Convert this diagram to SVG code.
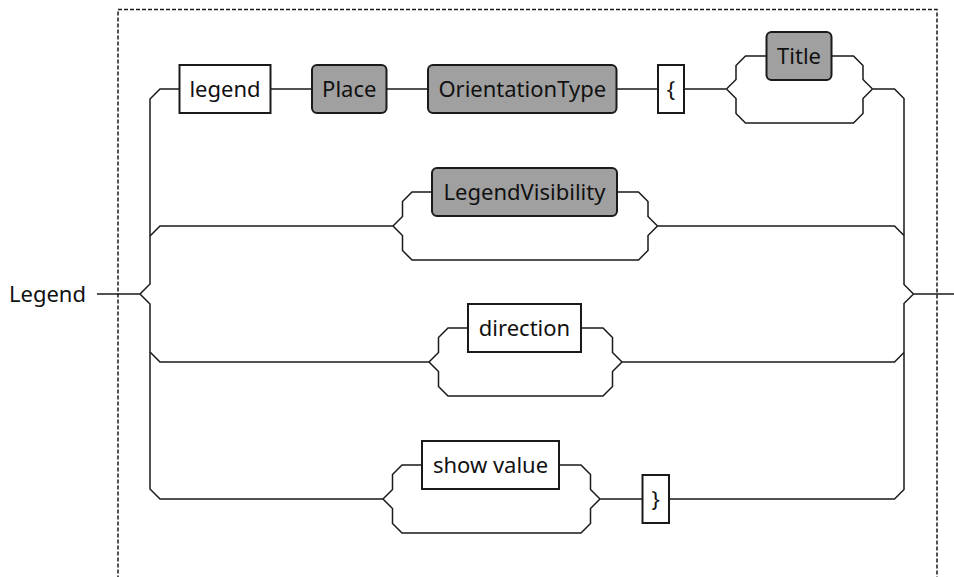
<svg xmlns="http://www.w3.org/2000/svg" width="954" height="577" viewBox="0 0 954 577">
<style>
.box{fill:#fff;stroke:#1a1a1a;stroke-width:2}
.nt{fill:#a0a0a0;stroke:#1a1a1a;stroke-width:2}
.ln{fill:none;stroke:#1a1a1a;stroke-width:1.5}
.frame{fill:none;stroke:#1a1a1a;stroke-width:1.5;stroke-dasharray:4 2}
text{font-family:"Noto Sans","Open Sans","DejaVu Sans",sans-serif;font-size:22px;fill:#111;text-anchor:middle}
</style>
<rect class="frame" x="118" y="9.5" width="819" height="600"/>
<g id="connectors">
<path class="ln" d="M97,294 H140 L150,284 V99 L160,89 H179.5"/>
<path class="ln" d="M140,294 L150,304 V489 L160,499 H383"/>
<path class="ln" d="M150,236 L160,226 H393"/>
<path class="ln" d="M150,352 L160,362 H429"/>
<path class="ln" d="M270.5,89 H312 M386.5,89 H428 M616.5,89 H658 M684,89 H726.5"/>
<path class="ln" d="M726.5,89 L736,79.5 V65.5 L745.5,56 H766.5 M831.5,56 H853.5 L863,65.5 V79.5 L872.5,89 M726.5,89 L736,98.5 V113.5 L745.5,123 H853.5 L863,113.5 V98.5 L872.5,89"/>
<path class="ln" d="M872.5,89 H894.5 L904,98.5 V284.5 L913.5,294 H954 M913.5,294 L904,303.5 V489.5 L894.5,499 H669"/>
<path class="ln" d="M393,226 L402.5,216.5 V201.5 L412,192 H432 M617,192 H638.5 L648,201.5 V216.5 L657.5,226 M393,226 L402.5,235.5 V250.5 L412,260 H638.5 L648,250.5 V235.5 L657.5,226 H894.5 L904,235.5"/>
<path class="ln" d="M429,362 L438.5,352.5 V337.5 L448,328 H468 M581,328 H603 L612.5,337.5 V352.5 L622,362 M429,362 L438.5,371.5 V386.5 L448,396 H603 L612.5,386.5 V371.5 L622,362 H894.5 L904,352.5"/>
<path class="ln" d="M383,499 L392.5,489.5 V474.5 L402,465 H422 M559,465 H581 L590.5,474.5 V489.5 L600,499 M383,499 L392.5,508.5 V523.5 L402,533 H581 L590.5,523.5 V508.5 L600,499 H642.5"/>
</g>
<g id="start"><text x="86" y="302" style="text-anchor:end">Legend</text></g>
<g id="n-legend"><rect class="box" x="179.5" y="65" width="91" height="48"/><text x="225" y="97">legend</text></g>
<g id="n-place"><rect class="nt" x="312" y="65" width="74.5" height="48" rx="5"/><text x="349.25" y="97">Place</text></g>
<g id="n-orientation"><rect class="nt" x="428" y="65" width="188.5" height="48" rx="5"/><text x="522.25" y="97">OrientationType</text></g>
<g id="n-lbrace"><rect class="box" x="658" y="65" width="26" height="48"/><text x="671" y="97">{</text></g>
<g id="n-title"><rect class="nt" x="766.5" y="32" width="65" height="48" rx="5"/><text x="799" y="64">Title</text></g>
<g id="n-visibility"><rect class="nt" x="432" y="168" width="185" height="48" rx="5"/><text x="524.5" y="200">LegendVisibility</text></g>
<g id="n-direction"><rect class="box" x="468" y="304" width="113" height="48"/><text x="524.5" y="336">direction</text></g>
<g id="n-showvalue"><rect class="box" x="422" y="441" width="137" height="48"/><text x="490.5" y="473">show value</text></g>
<g id="n-rbrace"><rect class="box" x="642.5" y="475" width="26.5" height="48"/><text x="655.75" y="507">}</text></g>
</svg>
